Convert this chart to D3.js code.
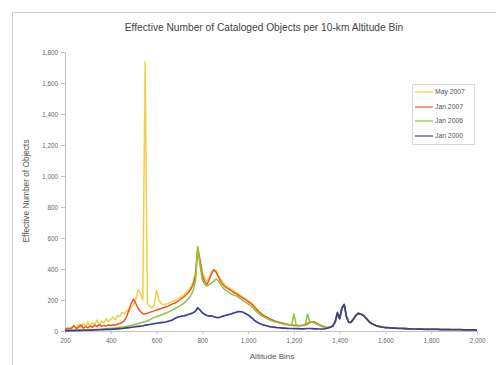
<!DOCTYPE html>
<html><head><meta charset="utf-8">
<script src="https://cdn.jsdelivr.net/npm/d3@7"></script>
<style>body{margin:0;background:#fff}svg{display:block;font-family:"Liberation Sans",Arial,sans-serif}</style>
</head><body><svg id="c" width="496" height="365"></svg>
<script>
const title = "Effective Number of Cataloged Objects per 10-km Altitude Bin";
const xTitle = "Altitude Bins";
const yTitle = "Effective Number of Objects";
const xTicks = [200,400,600,800,1000,1200,1400,1600,1800,2000];
const yTicks = [0,200,400,600,800,1000,1200,1400,1600,1800];
const seriesNames = ["May 2007","Jan 2007","Jan 2006","Jan 2000"];
// altitude bins 200..2000 km, 10 km wide
const altitudes = d3.range(200, 2001, 10);

const may2007 = [
 5,12,25,8,35,15,45,22,50,30,
 60,28,55,40,70,35,65,50,80,60,
 75,90,70,100,95,120,110,135,125,150,
 175,210,265,240,200,1735,180,160,150,170,
 265,200,175,170,172,178,185,190,195,205,
 215,225,235,250,265,285,315,380,540,470,
 380,340,320,345,380,400,390,360,335,312,
 295,285,275,265,255,246,236,226,216,206,
 196,185,172,155,138,122,110,100,92,84,
 76,70,64,60,56,52,48,45,42,40,
 38,37,36,36,38,45,55,62,58,52,
 45,38,32,27,24,22,24,30,52,105,
 78,145,165,92,58,60,78,100,115,110,
 103,90,74,58,48,40,34,30,27,24,
 23,22,21,20,19,18,17,17,16,16,
 15,15,14,14,13,13,13,12,12,12,
 11,11,11,11,10,10,10,10,10,9,
 9,9,9,9,8,8,8,8,8,8,
 7];
const jan2007 = [
 8,18,10,22,35,15,25,40,18,28,
 20,32,24,38,28,42,30,36,32,40,
 36,40,38,45,48,55,70,95,140,180,
 205,175,145,125,112,110,115,120,125,130,
 135,140,145,150,155,160,168,175,180,190,
 200,210,220,235,250,270,300,360,530,450,
 360,320,300,330,370,395,380,350,320,300,
 285,275,265,255,245,238,228,218,210,200,
 190,180,168,150,135,120,108,98,90,82,
 74,68,62,58,54,50,46,43,40,38,
 36,35,34,34,35,38,45,55,60,58,
 50,42,35,28,24,22,24,30,52,105,
 78,145,165,92,58,60,78,100,115,110,
 103,90,74,58,48,40,34,30,27,24,
 23,22,21,20,19,18,17,17,16,16,
 15,15,14,14,13,13,13,12,12,12,
 11,11,11,11,10,10,10,10,10,9,
 9,9,9,9,8,8,8,8,8,8,
 7];
const jan2006 = [
 3,3,4,4,5,5,6,6,7,8,
 8,9,10,10,11,12,13,14,15,16,
 17,18,20,22,24,26,28,30,33,36,
 40,44,48,52,56,60,65,72,80,88,
 92,98,104,110,116,122,128,136,145,152,
 160,170,180,195,210,230,260,320,545,420,
 330,300,290,300,310,320,335,325,300,280,
 265,255,245,235,230,225,215,205,195,185,
 175,165,150,135,120,108,98,90,82,75,
 68,62,58,54,50,46,42,40,38,36,
 110,40,34,36,38,42,110,55,58,52,
 45,38,30,25,22,22,25,32,55,110,
 80,150,170,95,60,62,80,102,118,112,
 102,90,74,58,48,40,34,30,27,24,
 23,22,21,20,19,18,17,17,16,16,
 15,15,14,14,13,13,13,12,12,12,
 11,11,11,11,10,10,10,10,10,9,
 9,9,9,9,8,8,8,8,8,8,
 7];
const jan2000 = [
 2,2,3,3,3,4,4,4,5,5,
 5,6,6,7,7,8,8,9,10,10,
 11,12,12,14,15,16,18,20,22,24,
 26,28,30,32,34,38,40,42,45,48,
 50,52,54,56,58,62,66,72,80,88,
 92,96,98,102,108,112,118,128,150,135,
 118,108,100,96,98,92,88,86,90,96,
 100,104,108,112,118,122,126,124,120,112,
 104,92,80,66,56,48,42,38,34,30,
 27,25,23,21,20,19,18,17,16,16,
 15,15,15,14,14,15,16,16,15,14,
 14,13,13,14,16,20,26,34,60,120,
 80,150,172,90,55,56,75,98,112,110,
 105,92,75,58,48,40,34,30,27,24,
 22,21,20,19,18,17,16,16,15,15,
 14,14,13,13,12,12,12,11,11,11,
 10,10,10,10,9,9,9,9,9,8,
 8,8,8,8,7,7,7,7,7,7,
 6];
const seriesValues = [may2007, jan2007, jan2006, jan2000];
const seriesColors = ["#f3cf45","#e85a24","#8cc43c","#3c3c9a"];

const svg = d3.select("#c");
const m = {l:65, r:477, t:52, b:331};
const x = d3.scaleLinear().domain([200,2000]).range([m.l, m.r]);
const y = d3.scaleLinear().domain([0,1800]).range([m.b, m.t]);

// outer chart frame
svg.append("rect").attr("x",12.5).attr("y",12.5).attr("width",500).attr("height",370)
  .attr("fill","#fff").attr("stroke","#cfcfcf");

svg.append("text").attr("x",264).attr("y",31).attr("text-anchor","middle")
  .attr("font-size",10.2).attr("fill","#444").text(title);

const fmt = d3.format(",");
const ya = svg.append("g").attr("transform",`translate(${m.l},0)`)
  .call(d3.axisLeft(y).tickValues(yTicks).tickFormat(fmt).tickSize(4).tickPadding(3));
const xa = svg.append("g").attr("transform",`translate(0,${m.b})`)
  .call(d3.axisBottom(x).tickValues(xTicks).tickFormat(fmt).tickSize(3).tickPadding(5));
[ya,xa].forEach(a=>{
  a.selectAll("path,line").attr("stroke","#c4c4c4");
  a.selectAll("text").attr("font-size",6.3).attr("fill","#666").attr("font-family","Liberation Sans, Arial, sans-serif");
});

svg.append("text").attr("transform","translate(29,191) rotate(-90)").attr("text-anchor","middle")
  .attr("font-size",8.3).attr("fill","#555").text(yTitle);
svg.append("text").attr("x",272).attr("y",359).attr("text-anchor","middle")
  .attr("font-size",8).attr("fill","#555").text(xTitle);

const line = d3.line().x((d,i)=>x(altitudes[i])).y(d=>y(d));
seriesValues.forEach((vals,k)=>{
  svg.append("path").datum(vals).attr("d",line).attr("fill","none")
    .attr("stroke",seriesColors[k]).attr("stroke-width",k===3?1.7:1.5)
    .attr("stroke-linejoin","round");
});

// legend
const lg = svg.append("g");
lg.append("rect").attr("x",412.5).attr("y",84.5).attr("width",62).attr("height",60)
  .attr("fill","#fff").attr("stroke","#d8d8d8");
const ly = [92,107,121,136];
seriesNames.forEach((n,i)=>{
  lg.append("line").attr("x1",415).attr("x2",433).attr("y1",ly[i]).attr("y2",ly[i])
    .attr("stroke",seriesColors[i]).attr("stroke-width",1.2);
  lg.append("text").attr("x",435).attr("y",ly[i]+2.3).attr("font-size",6.8).attr("fill","#555").text(n);
});
</script></body></html>
